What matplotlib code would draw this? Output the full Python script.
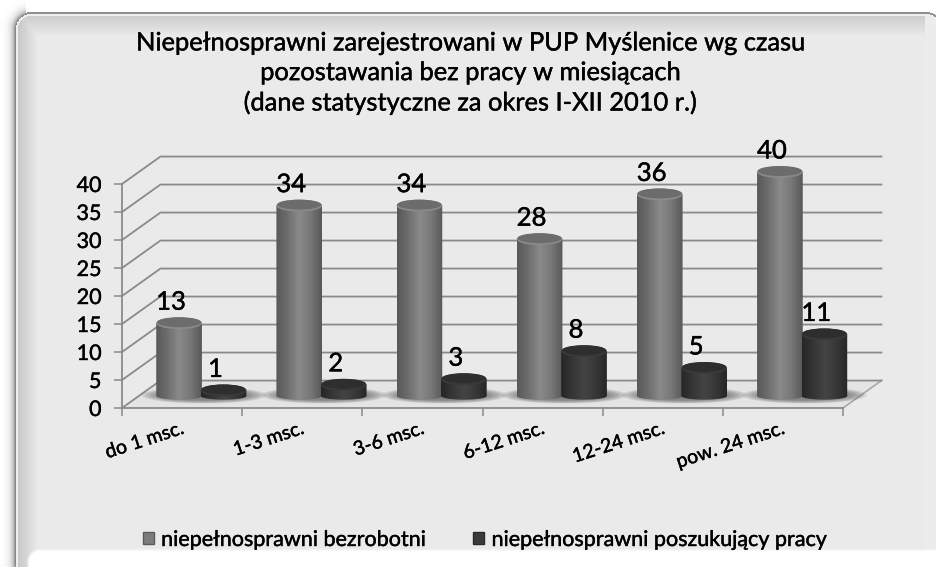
import numpy as np
import matplotlib
matplotlib.use("Agg")
import matplotlib.pyplot as plt
import matplotlib.patheffects as pe
from matplotlib.colors import LinearSegmentedColormap
from matplotlib.patches import Ellipse, Polygon, Patch

plt.rcParams['font.family'] = ['Lato', 'DejaVu Sans']

# Data
categories = ["do 1 msc.", "1-3 msc.", "3-6 msc.", "6-12 msc.", "12-24 msc.", "pow. 24 msc."]
bezrobotni = [13, 34, 34, 28, 36, 40]
poszukujacy = [1, 2, 3, 8, 5, 11]
y_ticks = [0, 5, 10, 15, 20, 25, 30, 35, 40]
title = ("Niepełnosprawni zarejestrowani w PUP Myślenice wg czasu\n"
         "pozostawania bez pracy w miesiącach\n"
         "(dane statystyczne za okres I-XII 2010 r.)")
series_names = ["niepełnosprawni bezrobotni", "niepełnosprawni poszukujący pracy"]

W, H = 936, 567
GRID = "#8a8a8a"

# 3d look: how far the back wall sits from the front plane, in data units
DEPTH_X = 0.32
DEPTH_Y = 4.9
BASE_X = 0.16
BASE_Y = 2.14
HALF_W = 0.19
ELL_H = 1.05

light_cmap = LinearSegmentedColormap.from_list("light", ["#585858", "#6e6e6e", "#8a8a8a", "#787878", "#585858"])
dark_cmap = LinearSegmentedColormap.from_list("dark", ["#262626", "#363636", "#444444", "#383838", "#262626"])

# Lato is lighter than the original font, thicken it a little
heavy = [pe.withStroke(linewidth=0.3, foreground="black")]


# Panel behind the chart: rounded box with a soft bevel
def panel_image():
    yy, xx = np.mgrid[0:H, 0:W] + 0.5
    img = np.full((H, W), 0.915)
    top = np.clip((yy - 16) / 20, 0, 1)
    left = np.clip((xx - 18) / 20, 0, 1)
    img = np.minimum(img, 0.80 + 0.115 * top)
    img = np.minimum(img, 0.78 + 0.135 * left)
    img[(xx > 925)] = np.maximum(img[(xx > 925)], 0.925)

    def rounded(x0, y0, x1, y1, r):
        qx = np.maximum(np.maximum(x0 + r - xx, xx - x1 + r), 0)
        qy = np.maximum(np.maximum(y0 + r - yy, yy - y1 + r), 0)
        return np.hypot(qx, qy) - r

    outer = rounded(16, 14, 941, 578, 15)
    inner = rounded(28, 550, 980, 600, 12)
    img[np.abs(outer + 1.0) < 1.0] = 0.93
    # dark rim and side shadow
    rim = np.exp(-np.maximum(outer, 0) / 3.5) * (xx < 26) * 0.55
    img[outer > 0] = 1.0 - rim[outer > 0]
    top_line = (outer > 0) & (outer < 2) & (xx >= 26) & (yy < 300)
    img[top_line] = 0.56
    # white glow along the bottom, soft edge
    blend = np.clip((1.5 - inner) / 3, 0, 1)
    img = img * (1 - blend) + blend
    return img


fig = plt.figure(figsize=(W / 100, H / 100), dpi=100, facecolor="white")

bg = fig.add_axes([0, 0, 1, 1], zorder=0)
bg.imshow(panel_image(), cmap="gray", vmin=0, vmax=1, aspect="auto", interpolation="bilinear")
bg.axis("off")

ax = fig.add_axes([122 / W, 1 - 408 / H, 721 / W, 224 / H], zorder=1)
ax.patch.set_alpha(0)
ax.set_xlim(0, len(categories))
ax.set_ylim(0, 40)

# Floor
floor = Polygon([(0, 0), (6, 0), (6 + DEPTH_X, DEPTH_Y), (DEPTH_X, DEPTH_Y)], closed=True,
                facecolor="#e4e4e4", edgecolor="none", zorder=1, clip_on=False)
ax.add_patch(floor)
ax.plot([6, 6 + DEPTH_X], [0, DEPTH_Y], color="#a8a8a8", lw=1.2, clip_on=False, zorder=2)

# Walls
for v in y_ticks:
    ax.plot([0, DEPTH_X, 6 + DEPTH_X], [v, v + DEPTH_Y, v + DEPTH_Y], color=GRID, lw=1.3,
            clip_on=False, zorder=2, solid_joinstyle="miter")


def draw_cylinder(xc, v, cmap, top_color, rim_color):
    base = BASE_Y
    ry = ELL_H
    ry_low = 0.65
    t = np.linspace(np.pi, 2 * np.pi, 40)
    xs = np.r_[xc + HALF_W * np.cos(t), xc + HALF_W, xc - HALF_W]
    ys = np.r_[base + ry_low * np.sin(t), base + v, base + v]
    outline = Polygon(np.c_[xs, ys], closed=True, transform=ax.transData, facecolor="none", edgecolor="none")
    ax.add_patch(outline)
    outline.set_clip_on(False)
    im = ax.imshow(np.linspace(0, 1, 128).reshape(1, -1), cmap=cmap, aspect="auto",
                   extent=(xc - HALF_W, xc + HALF_W, base - ry, base + v + ry), zorder=4)
    im.set_clip_box(fig.bbox)
    im.set_clip_path(outline)
    ax.add_patch(Ellipse((xc, base + v), 2 * HALF_W, 2 * ry, facecolor=rim_color, edgecolor="none",
                         zorder=5, clip_on=False))
    ax.add_patch(Ellipse((xc, base + v + 0.18), 2 * HALF_W * 0.97, 2 * ry * 0.85, facecolor=top_color,
                         edgecolor="none", zorder=6, clip_on=False))


n = len(categories)
centers = np.arange(n) + 0.5 + BASE_X
for i in range(n):
    # soft shadow on the floor under each group
    for k in range(8):
        ax.add_patch(Ellipse((centers[i] + 0.02, BASE_Y + 0.15), 1.04 - 0.05 * k, 3.0 - 0.18 * k,
                             facecolor="#555555", alpha=0.12, edgecolor="none", zorder=3, clip_on=False))

    x1 = centers[i] - 0.185
    x2 = centers[i] + 0.185
    draw_cylinder(x1, bezrobotni[i], light_cmap, "#6c6c6c", "#8a8a8a")
    draw_cylinder(x2, poszukujacy[i], dark_cmap, "#2e2e2e", "#3a3a3a")
    for x, v in ((x1, bezrobotni[i]), (x2, poszukujacy[i])):
        ax.annotate(str(v), (x, BASE_Y + v), xytext=(-8, 21), textcoords="offset pixels", ha="center",
                    va="center", fontsize=18.5, color="black", annotation_clip=False, zorder=8,
                    path_effects=heavy)

# Axes
for s in ("top", "right"):
    ax.spines[s].set_visible(False)
for s in ("left", "bottom"):
    ax.spines[s].set_color(GRID)
    ax.spines[s].set_linewidth(1.3)
    ax.spines[s].set_zorder(7)
ax.set_yticks(y_ticks)
ax.tick_params(axis="y", length=5.8, width=1.1, color=GRID, labelsize=15.5, pad=9, labelcolor="black")
for lab in ax.get_yticklabels():
    lab.set_path_effects(heavy)
ax.set_xticks(np.arange(n + 1))
ax.set_xticklabels([])
ax.tick_params(axis="x", which="major", length=5.8, width=1.1, color=GRID)
ax.set_xticks(np.arange(n) + 0.49, labels=categories, minor=True)
ax.tick_params(axis="x", which="minor", length=0, pad=8.5, labelsize=14, labelcolor="black")
for lab in ax.get_xticklabels(minor=True):
    lab.set_rotation(18)
    lab.set_ha("right")
    lab.set_va("top")
    lab.set_rotation_mode("anchor")
    lab.set_path_effects(heavy)

fig.text(470 / W, 1 - 73 / H, title, ha="center", va="center", fontsize=18.3, color="black",
         linespacing=1.35, path_effects=heavy)

handles = [Patch(facecolor="#7c7c7c", edgecolor="#5a5a5a", label=series_names[0]),
           Patch(facecolor="#3a3a3a", edgecolor="#2a2a2a", label=series_names[1])]
leg = fig.legend(handles=handles, loc="center", bbox_to_anchor=(485 / W, 1 - 540 / H), ncol=2, frameon=False,
                 fontsize=15.5, handlelength=0.5, handleheight=0.5, handletextpad=0.35, columnspacing=2.2)
for t in leg.get_texts():
    t.set_path_effects(heavy)

fig.savefig("out.png", dpi=100)
